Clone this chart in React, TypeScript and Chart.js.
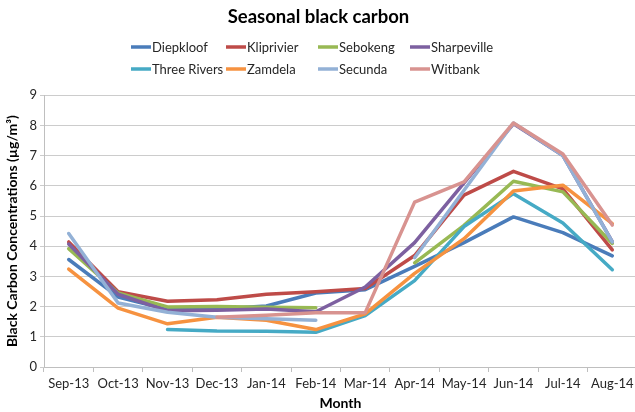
import React, { useEffect, useRef } from "react";
import { Chart, registerables } from "chart.js";

Chart.register(...registerables);

const months = ["Sep-13", "Oct-13", "Nov-13", "Dec-13", "Jan-14", "Feb-14", "Mar-14", "Apr-14", "May-14", "Jun-14", "Jul-14", "Aug-14"];

const diepkloof = [3.56, 2.32, 1.9, 1.92, 2.02, 2.45, 2.56, 3.33, 4.12, 4.97, 4.45, 3.68];
const kliprivier = [4.14, 2.49, 2.18, 2.23, 2.41, 2.49, 2.6, 3.69, 5.69, 6.48, 5.9, 3.88];
const sebokeng = [3.92, 2.45, 1.99, 2.0, 1.98, 1.96, null, 3.45, 4.69, 6.15, 5.8, 4.09];
const sharpeville = [4.07, 2.41, 1.86, 1.88, 1.92, 1.83, 2.65, 4.12, 6.1, 8.05, 7.0, 4.15];
const threeRivers = [null, null, 1.24, 1.19, 1.18, 1.15, 1.7, 2.86, 4.65, 5.74, 4.77, 3.22];
const zamdela = [3.24, 1.95, 1.43, 1.65, 1.55, 1.24, 1.76, 3.1, 4.25, 5.83, 6.02, 4.75];
const secunda = [4.42, 2.12, 1.81, 1.65, 1.6, 1.55, null, 3.62, 5.85, 8.08, 7.0, 4.14];
const witbank = [null, null, null, 1.65, 1.71, 1.8, 1.8, 5.46, 6.13, 8.08, 7.05, 4.7];

const seriesNames = ["Diepkloof", "Kliprivier", "Sebokeng", "Sharpeville", "Three Rivers", "Zamdela", "Secunda", "Witbank"];
const seriesValues = [diepkloof, kliprivier, sebokeng, sharpeville, threeRivers, zamdela, secunda, witbank];
const seriesColors = ["#4A7CBA", "#BE4B48", "#98B954", "#7D60A0", "#46AAC5", "#F69240", "#93B1D6", "#D89390"];

const FONT = "Lato, 'Open Sans', sans-serif";
const TEXT = "#262626";

const gridLegend = {
  id: "gridLegend",
  afterDraw(chart: any) {
    const ctx = chart.ctx;
    const colX = [131, 226, 318, 410];
    const rowY = [47, 69];
    ctx.save();
    ctx.font = `13px ${FONT}`;
    ctx.textBaseline = "middle";
    ctx.textAlign = "left";
    chart.data.datasets.forEach((ds: any, i: number) => {
      const x = colX[i % 4];
      const y = rowY[Math.floor(i / 4)];
      ctx.strokeStyle = ds.borderColor;
      ctx.lineWidth = 3.5;
      ctx.lineCap = "butt";
      ctx.beginPath();
      ctx.moveTo(x, y);
      ctx.lineTo(x + 20, y);
      ctx.stroke();
      ctx.fillStyle = TEXT;
      ctx.fillText(ds.label, x + 21, y + 1);
    });
    ctx.restore();
  },
};

export default function App() {
  const ref = useRef<HTMLCanvasElement>(null);

  useEffect(() => {
    if (!ref.current) return;
    const n = seriesNames.length;
    const chart = new Chart(ref.current, {
      type: "line",
      data: {
        labels: months,
        datasets: seriesNames.map((name, i) => ({
          label: name,
          data: seriesValues[i],
          borderColor: seriesColors[i],
          backgroundColor: seriesColors[i],
          borderWidth: 3.5,
          pointRadius: 0,
          tension: 0,
          spanGaps: false,
          borderCapStyle: "round",
          borderJoinStyle: "round",
          order: n - 1 - i,
        })),
      },
      options: {
        responsive: false,
        animation: false,
        layout: { padding: { top: 0, left: 0, right: 3, bottom: 0 } },
        plugins: {
          legend: { display: false },
          tooltip: { enabled: false },
          title: {
            display: true,
            text: "Seasonal black carbon",
            color: "#000",
            font: { family: FONT, size: 18.5, weight: "bold", lineHeight: 1.2 },
            padding: { top: 6, bottom: 67 },
          },
        },
        scales: {
          x: {
            type: "category",
            offset: true,
            grid: {
              offset: true,
              drawOnChartArea: false,
              drawTicks: true,
              tickLength: 5,
              color: "#bfbfbf",
            },
            border: { display: true, color: "#bfbfbf" },
            ticks: { color: TEXT, font: { family: FONT, size: 13 }, padding: 4, maxRotation: 0, autoSkip: false },
            title: {
              display: true,
              text: "Month",
              color: "#000",
              font: { family: FONT, size: 14, weight: "bold", lineHeight: 1.2 },
              padding: { top: 0, bottom: 0 },
            },
            afterFit: (s: any) => {
              s.height = 45;
            },
          },
          y: {
            min: 0,
            max: 9,
            ticks: { stepSize: 1, color: TEXT, font: { family: FONT, size: 13 }, padding: 3 },
            grid: { color: "#cccccc", lineWidth: 1, tickLength: 4, drawTicks: true },
            border: { display: true, color: "#bfbfbf" },
            title: {
              display: true,
              text: "Black Carbon Concentrations (µg/m³)",
              color: "#000",
              font: { family: FONT, size: 14, weight: "bold", lineHeight: 1.2 },
              padding: { top: 4, bottom: 0 },
            },
            afterFit: (s: any) => {
              s.width = 44;
            },
          },
        },
      },
      plugins: [gridLegend],
    });
    return () => chart.destroy();
  }, []);

  return (
    <div style={{ position: "fixed", left: 0, top: 0, width: 635, height: 412, overflow: "hidden", background: "#fff" }}>
      <canvas ref={ref} width={640} height={412} style={{ display: "block" }} />
    </div>
  );
}
